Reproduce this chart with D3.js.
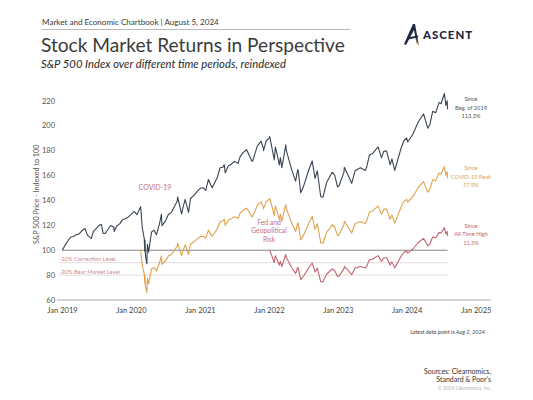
<!DOCTYPE html>
<html><head><meta charset="utf-8">
<script src="https://cdn.jsdelivr.net/npm/d3@7"></script>
<style>
html,body{margin:0;padding:0;background:#fff;}
svg{display:block;font-family:"Source Sans Pro","Lato","Open Sans",sans-serif;}
</style></head>
<body><svg id="c" width="533" height="400"></svg>
<script>
// S&P 500 closing levels (approximate, read/estimated)
const dates = ["2018-12-31","2019-01-15","2019-01-31","2019-02-15","2019-02-28","2019-03-15","2019-03-29","2019-04-15","2019-04-30","2019-05-13","2019-05-31","2019-06-03","2019-06-14","2019-06-28","2019-07-15","2019-07-26","2019-08-05","2019-08-15","2019-08-30","2019-09-13","2019-09-30","2019-10-02","2019-10-15","2019-10-31","2019-11-15","2019-11-29","2019-12-13","2019-12-31",
"2020-01-15","2020-01-31","2020-02-19","2020-02-28","2020-03-09","2020-03-12","2020-03-13","2020-03-16","2020-03-23","2020-03-26","2020-04-01","2020-04-17","2020-04-30","2020-05-13","2020-05-29","2020-06-08","2020-06-11","2020-06-30","2020-07-15","2020-07-31","2020-08-14","2020-08-31","2020-09-02","2020-09-23","2020-09-30","2020-10-12","2020-10-30","2020-11-09","2020-11-30","2020-12-15","2020-12-31",
"2021-01-15","2021-01-29","2021-02-12","2021-02-26","2021-03-04","2021-03-31","2021-04-15","2021-04-30","2021-05-07","2021-05-12","2021-05-28","2021-06-15","2021-06-30","2021-07-19","2021-07-30","2021-08-16","2021-08-31","2021-09-02","2021-09-30","2021-10-04","2021-10-29","2021-11-18","2021-11-30","2021-12-01","2021-12-15","2021-12-31",
"2022-01-03","2022-01-27","2022-01-31","2022-02-02","2022-02-23","2022-02-28","2022-03-08","2022-03-29","2022-03-31","2022-04-29","2022-05-20","2022-05-31","2022-06-03","2022-06-16","2022-06-30","2022-07-29","2022-08-16","2022-08-31","2022-09-12","2022-09-30","2022-10-12","2022-10-31","2022-11-30","2022-12-13","2022-12-28",
"2023-01-05","2023-01-31","2023-02-02","2023-02-28","2023-03-13","2023-03-31","2023-04-28","2023-05-24","2023-05-31","2023-06-15","2023-06-30","2023-07-31","2023-08-18","2023-08-31","2023-09-14","2023-09-29","2023-10-03","2023-10-12","2023-10-27","2023-11-30","2023-12-15","2023-12-29",
"2024-01-04","2024-01-31","2024-02-29","2024-03-28","2024-04-19","2024-04-30","2024-05-15","2024-05-31","2024-06-18","2024-06-28","2024-07-16","2024-07-24","2024-07-31","2024-08-02"];
const spx = [2507,2610,2704,2775,2784,2822,2834,2905,2946,2812,2752,2744,2887,2942,3014,3026,2844,2847,2926,3007,2977,2887,2995,3038,3120,3141,3168,3231,
3289,3226,3386,2954,2746,2481,2711,2386,2237,2630,2470,2875,2912,2820,3044,3232,3002,3100,3227,3271,3373,3500,3581,3237,3363,3534,3270,3550,3622,3695,3756,
3768,3714,3934,3811,3768,3973,4170,4181,4233,4063,4204,4246,4298,4258,4395,4479,4523,4537,4308,4300,4605,4705,4567,4513,4709,4766,
4797,4326,4516,4589,4226,4374,4171,4632,4530,4132,3901,4132,4109,3667,3785,4130,4305,3955,4110,3586,3577,3872,4080,4019,3783,
3808,4077,4179,3970,3855,4109,4169,4115,4180,4426,4450,4589,4370,4508,4505,4288,4229,4349,4117,4568,4719,4770,
4688,4846,5096,5254,4967,5036,5308,5278,5487,5460,5667,5427,5522,5347];

const seriesNames = ["Since Beg. of 2019","Since COVID-19 Peak","Since All-Time High"];
const seriesBase = ["2018-12-31","2020-02-19","2022-01-03"];
const seriesColors = ["#3a4452","#e0a24f","#c2646e"];
const seriesLabel1 = ["Beg. of 2019","COVID-19 Peak","All-Time High"];
const seriesReturn = ["113.3%","57.9%","11.5%"];

const yTicks = [60,80,100,120,140,160,180,200,220];
const xTickYears = [2019,2020,2021,2022,2023,2024,2025];
const levels = [{v:90,label:"-10% Correction Level"},{v:80,label:"-20% Bear Market Level"}];

const parse = d3.timeParse("%Y-%m-%d");
const svg = d3.select("#c");

const x = d3.scaleTime().domain([parse("2018-12-03"), parse("2025-03-20")]).range([57, 491]);
const y = d3.scaleLinear().domain([60, 220]).range([300, 101]);

// header
function fitText(sel, w){ const n=sel.node(); const cur=n.getComputedTextLength(); const fs=parseFloat(sel.attr("font-size")); sel.attr("font-size", fs*w/cur); return fs*w/cur; }
fitText(svg.append("text").attr("x",42).attr("y",25).attr("font-size",9.5).attr("fill","#3a3a3a").text("Market and Economic Chartbook | August 5, 2024"), 177);
svg.append("line").attr("x1",42).attr("x2",350).attr("y1",29.5).attr("y2",29.5).attr("stroke","#a8a8a8").attr("stroke-width",0.8);
fitText(svg.append("text").attr("x",41).attr("y",52).attr("font-size",20).attr("fill","#3b3b3b").text("Stock Market Returns in Perspective"), 304);
fitText(svg.append("text").attr("x",41).attr("y",68).attr("font-size",12).attr("font-style","italic").attr("fill","#2a2a2a").text("S&P 500 Index over different time periods, reindexed"), 245);

// logo
const logo = svg.append("g").attr("transform","translate(404,24)");
logo.append("path").attr("d","M9,0 L11,0 L14.5,19 L12.5,19 L10,6 L2,21 L0,20 Z").attr("fill","#1f2744");
logo.append("path").attr("d","M3,13.5 L14.5,11.5 L13.5,13.5 L4,15.5 Z").attr("fill","#1f2744");
logo.append("path").attr("d","M11.5,14 L15.5,21 L13.5,21 Z").attr("fill","#c9a14a");
fitText(svg.append("text").attr("x",423).attr("y",38.5).attr("font-family","Lato, sans-serif").attr("font-weight",900).attr("font-size",12).attr("letter-spacing",1).attr("fill","#1f2744").text("ASCENT"), 50);

// axes
const g = svg.append("g");
g.append("line").attr("x1",x.range()[0]).attr("x2",x.range()[1]).attr("y1",y(60)).attr("y2",y(60)).attr("stroke","#9a9a9a").attr("stroke-width",0.8);
g.selectAll(".yt").data(yTicks).join("text").attr("x",55).attr("y",d=>y(d)+2.5).attr("text-anchor","end").attr("font-size",7.5).attr("fill","#555").text(d=>d);
g.selectAll(".xt").data(xTickYears).join("text").attr("x",d=>x(new Date(d,0,1))).attr("y",313).attr("text-anchor","middle").attr("font-size",7.5).attr("fill","#444").text(d=>"Jan "+d);
g.append("text").attr("transform",`translate(39,${y(145)}) rotate(-90)`).attr("text-anchor","middle").attr("font-size",7.2).attr("fill","#555").text("S&P 500 Price - Indexed to 100");

const dStart = parse(dates[0]), dEnd = parse(dates[dates.length-1]);
// levels
levels.forEach(l=>{
  g.append("line").attr("x1",x.range()[0]+2).attr("x2",x(dEnd)).attr("y1",y(l.v)).attr("y2",y(l.v)).attr("stroke","#dcd0d3").attr("stroke-width",0.8);
  g.append("text").attr("x",59).attr("y",y(l.v)-1.5).attr("font-size",5.8).attr("fill","#c98a95").text(l.label);
});
g.append("line").attr("x1",x(dStart)).attr("x2",x(dEnd)).attr("y1",y(100)).attr("y2",y(100)).attr("stroke","#777").attr("stroke-width",0.9);

// label font size: fit "COVID-19 Peak" to ~40px
const probe = svg.append("text").attr("font-size",7).text(seriesLabel1[1]);
const labelFs = fitText(probe, 40); probe.remove();

// series
const line = d3.line().x(d=>x(d.date)).y(d=>y(d.v));
seriesBase.forEach((b,i)=>{
  const bi = dates.indexOf(b);
  const base = spx[bi];
  const pts = dates.slice(bi).map((d,k)=>({date:parse(d), v: spx[bi+k]/base*100}));
  g.append("path").datum(pts).attr("d",line).attr("fill","none").attr("stroke",seriesColors[i]).attr("stroke-width",1.1).attr("stroke-linejoin","round");
  const last = pts[pts.length-1];
  const tx = 471, ty = y(last.v) - 8;
  const t = g.append("text").attr("text-anchor","middle").attr("font-size",labelFs).attr("fill", i===0?"#555":seriesColors[i]);
  ["Since", seriesLabel1[i], seriesReturn[i]].forEach((s,k)=> t.append("tspan").attr("x",tx).attr("y",ty+k*8.4).text(s));
});

// annotations
g.append("text").attr("x",155).attr("y",190).attr("text-anchor","middle").attr("font-size",7).attr("fill","#c8707c").text("COVID-19");
const fed = g.append("text").attr("text-anchor","middle").attr("font-size",6.8).attr("fill","#c8707c");
["Fed and","Geopolitical","Risk"].forEach((s,k)=>fed.append("tspan").attr("x",269).attr("y",225+k*8.4).text(s));

// footer
svg.append("text").attr("x",485).attr("y",334).attr("text-anchor","end").attr("font-size",5.6).attr("font-style","italic").attr("fill","#444").text("Latest data point is Aug 2, 2024");
svg.append("text").attr("x",491).attr("y",374).attr("text-anchor","end").attr("font-size",7).attr("fill","#333").text("Sources: Clearnomics,");
svg.append("text").attr("x",491).attr("y",382).attr("text-anchor","end").attr("font-size",7).attr("fill","#333").text("Standard & Poor’s");
svg.append("text").attr("x",491).attr("y",389.5).attr("text-anchor","end").attr("font-size",4.8).attr("fill","#b5b5b5").text("© 2024 Clearnomics, Inc.");
</script></body></html>
